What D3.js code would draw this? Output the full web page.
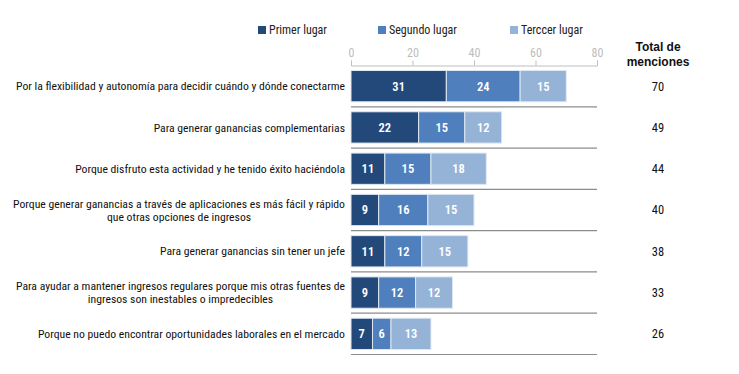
<!DOCTYPE html>
<html>
<head>
<meta charset="utf-8">
<script src="https://cdn.jsdelivr.net/npm/d3@7"></script>
<style>
  body { margin: 0; background: #fff; }
  svg text { font-family: "Roboto Condensed", "Liberation Sans Narrow", "DejaVu Sans Condensed", Roboto, sans-serif; }
  .tick text { fill: #bdbdbd; }
</style>
</head>
<body>
<div id="chart"></div>
<script>
const categories = [
  ['Por la flexibilidad y autonomía para decidir cuándo y dónde conectarme'],
  ['Para generar ganancias complementarias'],
  ['Porque disfruto esta actividad y he tenido éxito haciéndola'],
  ['Porque generar ganancias a través de aplicaciones es más fácil y rápido', 'que otras opciones de ingresos'],
  ['Para generar ganancias sin tener un jefe'],
  ['Para ayudar a mantener ingresos regulares porque mis otras fuentes de', 'ingresos son inestables o impredecibles'],
  ['Porque no puedo encontrar oportunidades laborales en el mercado']
]
const seriesNames = ['Primer lugar', 'Segundo lugar', 'Terccer lugar']
const primer = [31, 22, 11, 9, 11, 9, 7]
const segundo = [24, 15, 15, 16, 12, 12, 6]
const tercer = [15, 12, 18, 15, 15, 12, 13]
const totals = [70, 49, 44, 40, 38, 33, 26]
const xTicks = [0, 20, 40, 60, 80]

const colors = ['#23497b', '#4f80bd', '#95b3d7']

const width = 739
const height = 374

const svg = d3.select('#chart')
  .append('svg')
  .attr('width', width)
  .attr('height', height)

const x = d3.scaleLinear().domain([0, 80]).range([351, 597])
const y = d3.scaleBand().domain(d3.range(categories.length)).range([65.5, 354.5])
const barPad = 5

const rows = categories.map((c, i) => ({ i, vals: [primer[i], segundo[i], tercer[i]] }))
const stack = d3.stack().keys([0, 1, 2]).value((d, k) => d.vals[k])(rows)

// axis on top, ticks pointing up
const axis = svg.append('g')
  .attr('transform', `translate(0,${y.range()[0]})`)
  .call(d3.axisTop(x).tickValues(xTicks).tickSize(5).tickPadding(4))
axis.select('.domain').attr('stroke', '#bfbfbf')
axis.selectAll('.tick line').attr('stroke', '#bfbfbf')
axis.selectAll('.tick text').attr('font-size', 12)

// separators
svg.append('g').selectAll('line')
  .data(rows)
  .join('line')
  .attr('x1', x(0))
  .attr('x2', x(80))
  .attr('y1', d => y(d.i) + y.step())
  .attr('y2', d => y(d.i) + y.step())
  .attr('stroke', '#8c8c8c')
  .attr('stroke-width', 1.2)

// bars
const layer = svg.append('g').selectAll('g')
  .data(stack)
  .join('g')
  .attr('fill', (d, k) => colors[k])

layer.selectAll('rect')
  .data(d => d)
  .join('rect')
  .attr('x', d => x(d[0]))
  .attr('width', d => x(d[1]) - x(d[0]))
  .attr('y', d => y(d.data.i) + barPad)
  .attr('height', y.step() - 2 * barPad)
  .attr('stroke', '#dfe7f1')
  .attr('stroke-width', 1)

layer.selectAll('text')
  .data(d => d)
  .join('text')
  .attr('x', d => (x(d[0]) + x(d[1])) / 2)
  .attr('y', d => y(d.data.i) + y.step() / 2)
  .attr('dy', '0.35em')
  .attr('text-anchor', 'middle')
  .attr('fill', '#fff')
  .attr('font-size', 12.5)
  .attr('font-weight', 600)
  .text(d => d[1] - d[0])

// category labels: right aligned, multi-line centered on each other
const labelRight = 345
const lineH = 13
svg.append('g').selectAll('text')
  .data(rows)
  .join('text')
  .attr('font-size', 11.7)
  .attr('fill', '#111')
  .each(function (d) {
    const lines = categories[d.i]
    const t = d3.select(this)
    const cy = y(d.i) + y.step() / 2
    lines.forEach((ln, j) => {
      t.append('tspan')
        .attr('y', cy + (j - (lines.length - 1) / 2) * lineH)
        .attr('dy', '0.35em')
        .text(ln)
    })
    const tspans = t.selectAll('tspan').nodes()
    const maxW = d3.max(tspans, n => n.getComputedTextLength())
    t.selectAll('tspan')
      .attr('text-anchor', 'middle')
      .attr('x', labelRight - maxW / 2)
  })

// totals column
const totX = 658
svg.append('text')
  .attr('y', 51)
  .attr('text-anchor', 'middle')
  .attr('font-size', 12)
  .attr('font-weight', 'bold')
  .attr('fill', '#111')
  .style('font-family', '"Liberation Sans", Arial, sans-serif')
  .selectAll('tspan')
  .data(['Total de', 'menciones'])
  .join('tspan')
  .attr('x', totX)
  .attr('dy', (d, j) => j ? 14.5 : 0)
  .text(d => d)

svg.append('g').selectAll('text')
  .data(rows)
  .join('text')
  .attr('x', totX)
  .attr('y', d => y(d.i) + y.step() / 2)
  .attr('dy', '0.35em')
  .attr('text-anchor', 'middle')
  .attr('font-size', 12.5)
  .attr('fill', '#111')
  .text(d => totals[d.i])

// legend
const legendX = [258, 378, 510]
const legend = svg.append('g').selectAll('g')
  .data(seriesNames)
  .join('g')
  .attr('transform', (d, k) => `translate(${legendX[k]},30)`)
legend.append('rect')
  .attr('y', -4)
  .attr('width', 8)
  .attr('height', 8)
  .attr('fill', (d, k) => colors[k])
legend.append('text')
  .attr('x', 11)
  .attr('dy', '0.35em')
  .attr('font-size', 12)
  .attr('fill', '#222')
  .text(d => d)
</script>
</body>
</html>
